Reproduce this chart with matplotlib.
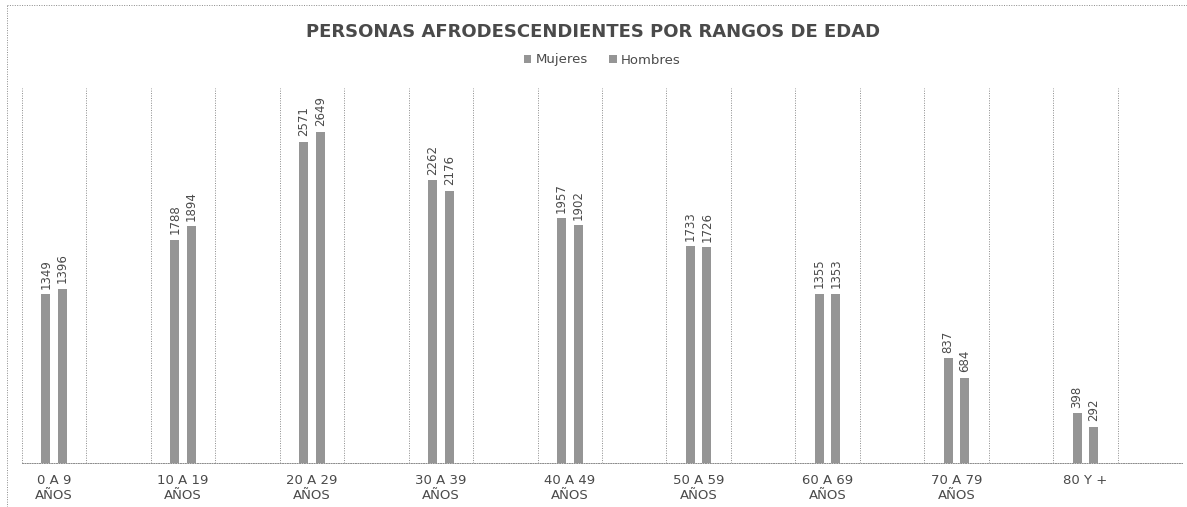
import matplotlib.pyplot as plt
import numpy as np

CATEGORIES = ["0 A 9\nAÑOS", "10 A 19\nAÑOS", "20 A 29\nAÑOS", "30 A 39\nAÑOS",
              "40 A 49\nAÑOS", "50 A 59\nAÑOS", "60 A 69\nAÑOS", "70 A 79\nAÑOS",
              "80 Y +"]
MUJERES = [1349, 1788, 2571, 2262, 1957, 1733, 1355, 837, 398]
HOMBRES = [1396, 1894, 2649, 2176, 1902, 1726, 1353, 684, 292]

BAR_COLOR = "#959595"
TEXT_COLOR = "#4a4a4a"
GRID_COLOR = "#8a8a8a"

fig = plt.figure(figsize=(11.87, 5.07), dpi=100)
ax = fig.add_axes([22 / 1187, 44 / 507, 1160 / 1187, 375 / 507])

x = np.arange(len(CATEGORIES), dtype=float)
width = 0.07
offset = 0.064
bars_m = ax.bar(x - offset, MUJERES, width=width, color=BAR_COLOR, label="Mujeres")
bars_h = ax.bar(x + offset, HOMBRES, width=width, color=BAR_COLOR, label="Hombres")

for bars, vals in ((bars_m, MUJERES), (bars_h, HOMBRES)):
    for b, v in zip(bars, vals):
        ax.annotate(str(v), (b.get_x() + b.get_width() / 2, v), xytext=(0, 4),
                    textcoords="offset points", rotation=90, ha="center", va="bottom",
                    fontsize=8.5, color=TEXT_COLOR)

# dotted vertical grid at every half-category boundary
for g in np.arange(len(CATEGORIES) * 2 + 1) * 0.5 - 0.25:
    ax.axvline(g, color=GRID_COLOR, linestyle=(0, (1, 1.5)), linewidth=0.7, zorder=0)

ax.set_xlim(-0.25, len(CATEGORIES) - 0.25)
ax.set_ylim(0, 3000)
ax.set_yticks([])
ax.set_xticks(x, CATEGORIES)
ax.tick_params(axis="x", length=0, pad=8, labelsize=9.5, labelcolor=TEXT_COLOR)
for side in ("top", "right", "left"):
    ax.spines[side].set_visible(False)
ax.spines["bottom"].set_color(GRID_COLOR)
ax.spines["bottom"].set_linestyle((0, (1, 1.5)))
ax.spines["bottom"].set_linewidth(0.7)

fig.text(0.5, 1 - 32 / 507, "PERSONAS AFRODESCENDIENTES POR RANGOS DE EDAD",
         ha="center", va="center", fontsize=13, fontweight="bold", color=TEXT_COLOR)

ax.legend(handles=[bars_m, bars_h], loc="center", bbox_to_anchor=(0.5, 1 + 28 / 375),
          ncol=2, frameon=False, fontsize=9.5, labelcolor=TEXT_COLOR,
          handlelength=0.6, handleheight=0.6, handletextpad=0.3, columnspacing=1.6)

# dotted outer chart frame
fig.add_artist(plt.Line2D([7 / 1187, 7 / 1187], [0, 1 - 5 / 507], transform=fig.transFigure,
                          color=GRID_COLOR, linestyle=(0, (1, 1.5)), linewidth=0.7))
fig.add_artist(plt.Line2D([7 / 1187, 1], [1 - 5 / 507, 1 - 5 / 507], transform=fig.transFigure,
                          color=GRID_COLOR, linestyle=(0, (1, 1.5)), linewidth=0.7))

fig.savefig("out.png", dpi=100)
